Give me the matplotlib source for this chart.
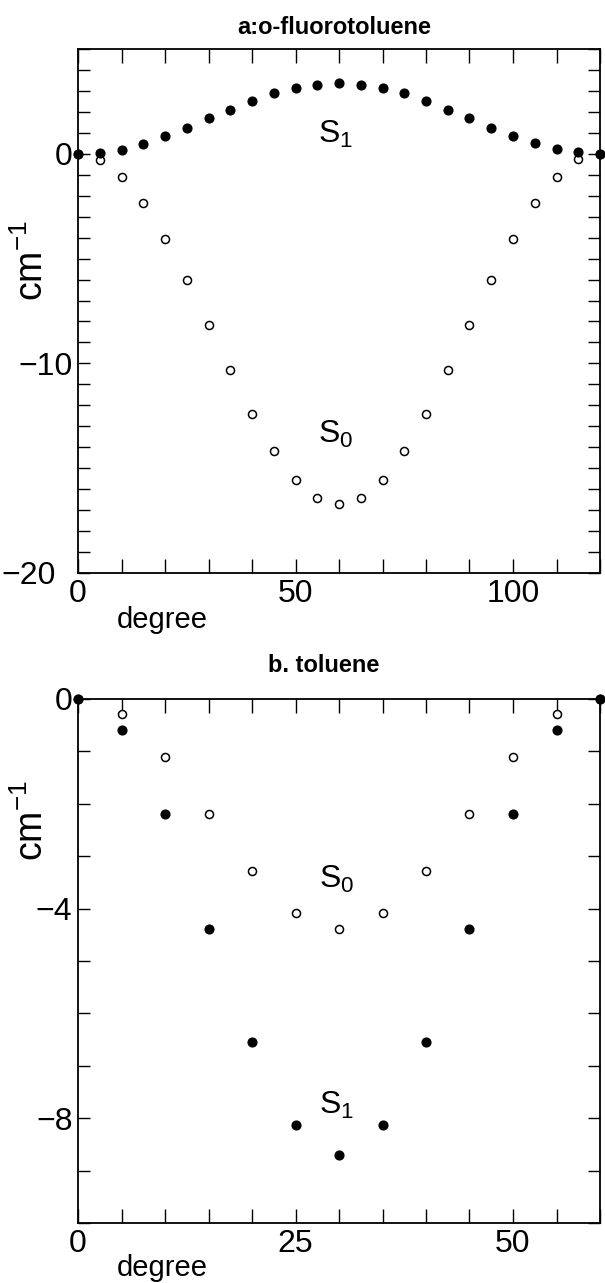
'''
Torsional potentials: o-fluorotoluene and toluene
'''
import matplotlib.pyplot as plt
from matplotlib.ticker import MultipleLocator
from matplotlib.transforms import ScaledTranslation

plt.rcParams['font.family'] = ['Liberation Sans', 'DejaVu Sans']
plt.rcParams['mathtext.default'] = 'regular'

# a: o-fluorotoluene, every 5 degrees from 0 to 120
deg_a = list(range(0, 125, 5))
s1_a = [0, 0.05, 0.19, 0.48, 0.84, 1.24, 1.70, 2.10, 2.51, 2.89, 3.14, 3.30, 3.38,
        3.30, 3.16, 2.89, 2.52, 2.11, 1.70, 1.25, 0.87, 0.52, 0.22, 0.08, 0]
s0_a = [0, -0.30, -1.11, -2.35, -4.05, -6.03, -8.17, -10.3, -12.40, -14.17, -15.54, -16.43, -16.71,
        -16.43, -15.54, -14.17, -12.40, -10.3, -8.17, -6.03, -4.05, -2.35, -1.10, -0.26, 0]

# b: toluene, every 5 degrees from 0 to 60
deg_b = list(range(0, 65, 5))
s0_b = [0, -0.29, -1.10, -2.20, -3.28, -4.09, -4.38, -4.09, -3.28, -2.20, -1.10, -0.28, 0]
s1_b = [0, -0.60, -2.20, -4.38, -6.55, -8.13, -8.71, -8.13, -6.55, -4.38, -2.20, -0.60, 0]

W, H = 605, 1283


def style(ax, xmax, xstep, xlabels, ymin, ymax, ylabels):
    'Boxed axes with inward ticks on every side'
    for sp in ax.spines.values():
        sp.set_linewidth(1.3)
    ax.xaxis.set_major_locator(MultipleLocator(xstep))
    ax.yaxis.set_major_locator(MultipleLocator(1))
    ax.tick_params(axis='x', direction='in', length=10, width=1, top=True, pad=4, labelsize=23)
    ax.tick_params(axis='y', direction='in', length=8.5, width=1, right=True, pad=4, labelsize=23)
    ax.set_xlim(0, xmax)
    ax.set_ylim(ymin, ymax)
    xt = [int(round(v)) for v in ax.get_xticks()]
    yt = [int(round(v)) for v in ax.get_yticks()]
    ax.set_xticks(xt)
    ax.set_yticks(yt)
    ax.set_xticklabels([str(t) if t in xlabels else '' for t in xt])
    ax.set_yticklabels([('\u2212' + str(-t) if t < 0 else str(t)) if t in ylabels else ''
                        for t in yt])
    ax.set_xlim(0, xmax)
    ax.set_ylim(ymin, ymax)


def panel(ax, deg, open_pts, filled_pts):
    'Open circles for S0, filled dots for S1'
    ax.plot(deg, open_pts, 'o', mfc='white', mec='black', mew=1.1, ms=5.8, clip_on=False, zorder=3)
    ax.plot(deg, filled_pts, 'o', color='black', ms=6.3, clip_on=False, zorder=4)


fig = plt.figure(figsize=(W / 100, H / 100), dpi=100)

# top panel
ax1 = fig.add_axes([78 / W, 1 - 573 / H, 522 / W, 524 / H])
panel(ax1, deg_a, s0_a, s1_a)
style(ax1, 120, 10, [0, 50, 100], -20, 5, [0, -10, -20])
ax1.text(59.3, 0.9, 'S$_1$', fontsize=23, ha='center', va='center')
ax1.text(59.3, -13.4, 'S$_0$', fontsize=23, ha='center', va='center')
# push the -20 label away from the x-axis 0
for lab, t in zip(ax1.get_yticklabels(), ax1.get_yticks()):
    if round(t) == -20:
        lab.set_transform(lab.get_transform() + ScaledTranslation(-17 / 100, 0, fig.dpi_scale_trans))

fig.text(334 / W, 1 - 27 / H, 'a:o-fluorotoluene', fontsize=17, fontweight='bold', ha='center', va='center')
fig.text(162 / W, 1 - 620 / H, 'degree', fontsize=21, ha='center', va='center')
fig.text(32 / W, 1 - 260 / H, 'cm$^{-1}$', fontsize=27, ha='center', va='center', rotation=90)

# bottom panel
ax2 = fig.add_axes([78 / W, 1 - 1223 / H, 522 / W, 524 / H])
panel(ax2, deg_b, s0_b, s1_b)
style(ax2, 60, 5, [0, 25, 50], -10, 0, [0, -4, -8])
ax2.text(29.7, -3.45, 'S$_0$', fontsize=23, ha='center', va='center')
ax2.text(29.7, -7.75, 'S$_1$', fontsize=23, ha='center', va='center')

fig.text(324 / W, 1 - 665 / H, 'b. toluene', fontsize=17, fontweight='bold', ha='center', va='center')
fig.text(162 / W, 1 - 1268 / H, 'degree', fontsize=21, ha='center', va='center')
fig.text(32 / W, 1 - 820 / H, 'cm$^{-1}$', fontsize=27, ha='center', va='center', rotation=90)

fig.savefig('out.png', dpi=100)
